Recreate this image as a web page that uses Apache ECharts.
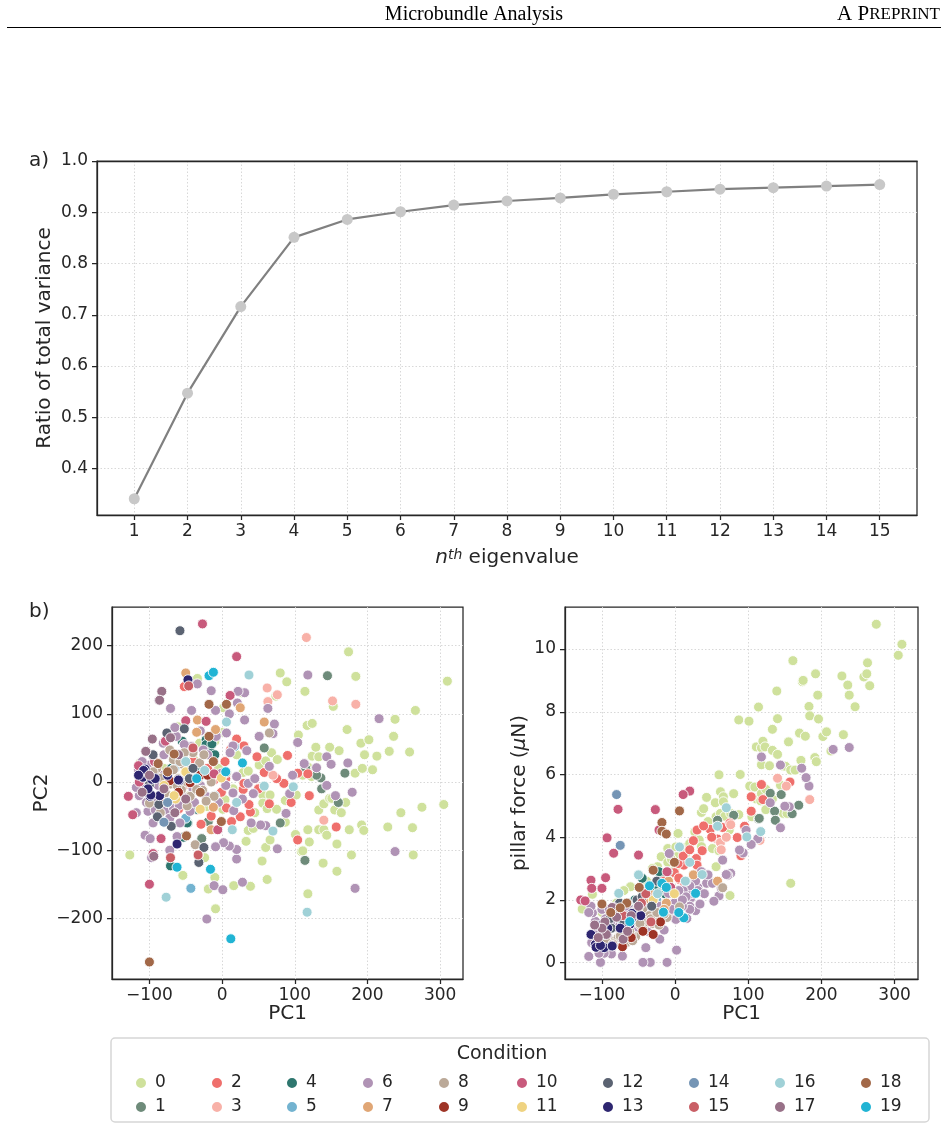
<!DOCTYPE html>
<html>
<head>
<meta charset="utf-8">
<script src="https://cdn.jsdelivr.net/npm/echarts@6/dist/echarts.min.js"></script>
<style>
html,body{margin:0;padding:0;background:#fff;}
#chart{width:948px;height:1127px;}
</style>
</head>
<body>
<div id="chart"></div>
<script>
// ---------- Panel a data ----------
const eigenIndex = [1,2,3,4,5,6,7,8,9,10,11,12,13,14,15];
const varianceRatio = [0.341,0.547,0.716,0.851,0.886,0.901,0.914,0.922,0.928,0.935,0.940,0.945,0.948,0.951,0.954];
const ratioTicks = [0.4,0.5,0.6,0.7,0.8,0.9,1.0];

// ---------- Panel b tick labels ----------
const pc1Ticks = [-100,0,100,200,300];
const pc2Ticks = [-200,-100,0,100,200];
const forceTicks = [0,2,4,6,8,10];

// ---------- Panel b data: each point = [PC1, PC2, pillar force] ----------
const cond0 = [[-127,-107,1.71],[-113,28,2.18],[-61,81,2.42],[-54,-137,2.0],[-34,152,2.53],[-24,-111,3.06],[-19,-157,3.38],[-10,-140,3.64],[-9,-186,2.95],[1,73,3.06],[1,-40,3.69],[2,109,3.38],[4,-26,4.12],[16,-152,3.69],[27,131,4.17],[29,14,3.16],[33,-87,3.91],[36,16,4.79],[36,-71,3.7],[39,-153,4.91],[43,-68,5.27],[51,25,3.64],[55,-116,5.1],[56,-19,4.65],[56,-31,3.06],[60,31,5.99],[60,-96,3.57],[62,-143,4.76],[62,-39,5.45],[66,-19,5.29],[66,-85,5.13],[68,43,4.67],[75,-40,2.14],[74,126,4.23],[76,33,4.76],[80,160,5.39],[87,-27,4.72],[87,-59,7.74],[89,147,6.0],[102,-19,5.63],[101,-77,7.7],[105,69,4.65],[109,-102,5.6],[111,10,6.88],[111,-101,5.22],[114,133,8.15],[117,83,5.16],[118,22,6.31],[118,-70,5.39],[118,-164,6.85],[120,-88,7.06],[123,8,6.88],[124,86,5.53],[124,38,4.88],[129,51,6.28],[133,-70,7.44],[133,-41,5.22],[133,37,6.77],[139,-119,8.66],[140,-32,7.78],[140,-70,6.64],[144,-78,5.66],[148,-24,4.76],[148,51,6.26],[151,-24,6.26],[153,111,4.76],[155,-41,7.04],[158,-131,6.14],[158,-91,2.53],[161,46,9.63],[164,-45,6.14],[170,-30,7.32],[172,77,6.45],[174,191,8.96],[175,-70,9.0],[178,-107,7.22],[183,13,8.17],[184,155,7.87],[191,57,6.54],[192,-63,9.21],[195,-71,8.53],[193,20,6.41],[196,40,7.77],[202,62,7.21],[207,18,7.36],[213,38,6.75],[228,-66,9.14],[230,45,7.27],[236,67,8.85],[238,92,8.53],[246,-45,8.16],[258,44,9.11],[262,-67,9.21],[263,-107,9.56],[266,105,8.83],[275,-37,10.79],[305,-33,9.8],[310,148,10.15],[-39,33,2.6],[-31,57,3.0],[-21,-36,2.4],[-80,20,1.9],[-45,-20,2.3],[-10,60,3.2],[-100,5,1.6],[-70,-20,2.3],[-5,20,3.3],[15,-10,3.5],[20,40,3.8],[45,-45,4.5]];
const cond1 = [[145,156,5.36],[136,6,4.83],[169,13,5.02],[114,-115,4.58],[58,50,4.54],[-28,-83,2.4],[-19,-58,2.7],[137,-10,4.54],[115,20,4.6],[80,-60,4.7],[160,-30,4.75],[130,10,5.4]];
const cond2 = [[90,39,3.41],[85,-2,3.99],[104,13,4.83],[118,12,5.68],[58,14,3.94],[48,37,4.25],[30,53,4.23],[12,48,3.11],[4,30,3.16],[-1,-15,2.87],[6,-38,2.65],[13,-58,2.55],[25,-51,3.89],[29,-11,3.32],[30,-2,3.11],[39,-44,4.36],[37,-33,3.57],[65,-32,4.31],[104,-85,5.29],[157,-66,5.76],[11,127,3.4],[20,63,3.6],[-34,-41,2.21],[-29,-62,1.84],[-33,-107,2.44],[-51,-4,1.09],[-44,-2,1.3],[-27,-11,2.0],[-11,3,2.5],[-52,140,1.09],[-40,30,1.8],[-20,20,2.3],[5,5,2.7],[-60,-40,1.4],[-15,-50,2.6],[50,-10,4.0],[75,5,4.45],[95,-30,4.35],[120,-20,5.2]];
const cond3 = [[116,212,3.9],[62,138,3.83],[76,128,4.4],[63,118,3.6],[152,119,5.63],[184,114,5.2],[140,-56,5.88],[70,10,4.0]];
const cond4 = [[-45,47,2.69],[-22,62,2.31],[-17,47,2.5],[-47,-60,1.47],[-71,-123,1.6],[-48,-60,1.9],[-22,55,2.9],[-14,56,2.2],[-53,-81,1.8],[-30,20,2.4],[-60,40,1.5],[-70,20,1.4],[-55,60,2.0],[-35,-40,2.3],[-10,40,2.9]];
const cond5 = [[-43,-156,1.6],[-80,-59,1.2],[-50,-53,1.8],[17,52,2.1],[-25,15,2.0],[-65,20,1.9],[-10,-20,2.4]];
const cond6 = [[118,157,6.56],[216,93,6.8],[238,-102,6.86],[183,-156,5.63],[179,-15,5.9],[173,28,6.2],[156,-20,4.97],[144,37,6.3],[150,26,4.99],[113,27,3.95],[130,21,5.1],[104,58,3.77],[97,10,4.22],[93,-17,3.5],[88,-46,3.59],[144,-5,4.3],[76,-98,2.85],[60,-64,2.13],[28,-25,1.66],[43,-17,2.53],[34,46,1.87],[31,131,2.4],[21,116,2.05],[22,133,2.2],[28,-147,2.6],[20,-113,1.8],[53,-63,1.96],[65,23,3.27],[72,85,2.79],[63,108,2.38],[70,71,2.81],[51,67,2.53],[31,91,2.3],[36,-2,2.9],[20,8,2.45],[20,-99,1.7],[16,-42,1.41],[10,-94,1.8],[2,-89,0.4],[-9,-95,1.57],[-11,-152,0.01],[1,-158,1.38],[-21,-201,0.75],[15,53,2.6],[6,72,2.2],[11,43,2.3],[-1,13,1.9],[15,-16,2.1],[-8,67,3.48],[-9,105,2.21],[-15,134,1.04],[-22,-21,1.5],[-34,144,0.01],[-42,105,1.62],[-71,108,0.93],[-87,120,0.28],[-106,-78,0.91],[-99,-83,0.28],[-97,-111,0.3],[-72,-100,0.21],[-109,-6,1.32],[-102,-43,0.01],[-92,-41,0.83],[-77,-41,1.1],[-67,-38,1.2],[-59,-34,1.57],[-72,-53,1.0],[-58,-60,1.3],[-44,-43,0.01],[-113,8,1.59],[-95,38,1.4],[-81,57,1.6],[-63,67,1.7],[-42,52,1.79],[-26,47,1.36],[-115,18,1.8],[-114,-20,0.64],[-40,-10,0.48],[-50,10,1.5],[-30,-5,1.9],[-85,10,1.2],[-100,25,1.7],[-118,-8,1.6],[-110,30,1.0],[-104,-30,0.3],[-95,-60,0.9],[-88,-5,1.3],[-80,40,1.8],[-76,0,0.6],[-65,80,1.5],[-55,-20,1.1],[-52,55,1.4],[-38,-30,1.0],[-30,75,2.0],[-20,40,1.8],[-5,-30,1.7],[5,-5,2.3],[10,100,2.0],[40,-60,2.2],[45,5,2.8],[-62,-80,1.2],[-118,-45,0.2],[-90,-25,1.7]];
const cond7 = [[-50,160,1.5],[-34,91,2.0],[-35,73,2.2],[-9,77,2.6],[-12,-37,1.9],[-15,-70,1.7],[25,109,2.8],[58,88,2.6]];
const cond8 = [[-71,-3,0.67],[-83,6,0.69],[-67,18,0.64],[-54,26,0.83],[-44,20,1.15],[-31,28,1.25],[-40,43,1.41],[-52,43,1.31],[-67,33,1.0],[-72,47,0.75],[-56,-11,1.6],[-44,-21,1.7],[-27,-12,1.36],[-11,-21,1.44],[-22,-28,1.2],[-35,-11,1.5],[-78,-16,0.8],[-100,-31,0.74],[-37,-92,1.3],[65,72,2.39],[6,14,1.78],[-60,5,0.9],[-48,0,1.2],[-90,20,0.6],[-95,15,0.7],[-75,-30,0.85],[-62,-5,1.0],[-58,30,0.7],[-48,-35,1.25],[-33,5,1.4],[-25,40,1.6],[-15,0,1.55],[-85,-45,0.6]];
const cond9 = [[-44,-1,1.0],[-72,2,0.51],[-30,10,0.9],[-60,-15,0.8],[-85,-30,0.55],[-20,10,1.3]];
const cond10 = [[-27,232,4.88],[20,184,5.47],[11,127,5.36],[-50,90,3.43],[-22,89,4.23],[-115,24,2.63],[-129,-21,2.0],[-123,-48,1.97],[-84,-83,3.49],[-95,-105,2.71],[-100,-150,2.37],[-6,-70,2.4],[-11,12,2.9],[-78,60,4.89],[-93,30,3.98],[-114,0,2.37]];
const cond11 = [[-64,-25,1.3],[-1,6,2.2],[-51,14,1.7],[-50,15,1.9],[-66,-20,1.4],[-80,-5,1.65],[-30,-40,2.0]];
const cond12 = [[-58,222,1.6],[-89,-51,1.4],[-87,-33,1.1],[-76,72,1.9],[-52,78,2.0],[-25,-96,2.6],[-32,-118,1.8],[-100,-4,0.9],[-40,20,2.2],[-95,40,1.0],[-70,-65,1.3],[-45,5,2.1]];
const cond13 = [[-106,19,1.19],[-109,7,0.58],[-97,4,0.48],[-99,-21,1.23],[-86,-20,0.53],[-59,2,1.57],[-47,150,1.5],[-62,-91,1.22],[-108,17,0.49],[-60,3,1.4],[-98,-19,0.9],[-75,10,1.1],[-115,10,0.9],[-102,-10,0.55],[-92,5,1.1]];
const cond14 = [[-80,-59,5.36],[-75,-30,3.74]];
const cond15 = [[-46,141,1.9],[-71,-111,1.5],[-33,-107,1.3],[-40,50,2.2]];
const cond16 = [[37,157,2.81],[6,88,3.69],[-24,17,2.2],[58,-6,4.35],[98,-7,4.01],[70,-72,4.94],[14,-70,2.6],[117,-191,4.18],[-77,-169,2.21],[-50,30,2.8],[20,-30,3.2]];
const cond17 = [[-83,133,1.75],[-86,120,1.76],[-96,63,1.3],[-71,65,0.75],[-94,-109,0.9],[-60,40,1.5],[-100,10,1.1],[-110,-15,1.2],[-105,45,0.8],[-80,-10,1.45],[-65,-45,1.0],[-50,-25,1.8]];
const cond18 = [[-100,-264,1.87],[6,114,4.84],[-18,114,4.47],[-18,67,4.19],[-1,-58,3.2],[-49,-79,2.4],[-88,27,1.6],[-66,41,1.9],[-12,30,4.1],[-75,15,1.75],[-30,-15,2.95]];
const cond19 = [[12,-230,1.43],[-18,156,2.53],[-12,161,2.4],[-62,-125,1.31],[-16,-128,1.61],[28,28,2.21],[-35,5,2.45],[5,15,1.6]];

const conditionNames = ['0','1','2','3','4','5','6','7','8','9','10','11','12','13','14','15','16','17','18','19'];
const conditionColors = ['#cfe19c','#6e8b7a','#ef6f6c','#f8b1a8','#2e766e','#73b3d0','#b093b5','#e0a675','#bba998','#9e3426','#c85a7c','#efd381','#5b6372','#2e2670','#7595b5','#c95f66','#a0d1d7','#987188','#a26848','#21b4d4'];
const conditionData = [cond0,cond1,cond2,cond3,cond4,cond5,cond6,cond7,cond8,cond9,cond10,cond11,cond12,cond13,cond14,cond15,cond16,cond17,cond18,cond19];

// ---------- chart ----------
const TXT = '#262626';
const FONT = 'DejaVu Sans';
const minusFmt = v => (v < 0 ? '\u2212' + Math.abs(v) : String(v));

function mkAxis(o) {
  return {
    type: 'value', gridIndex: o.grid, min: o.min, max: o.max,
    axisLine: {show: true, onZero: false, lineStyle: {color: TXT, width: 1.25}},
    axisTick: {show: true, length: 5, customValues: o.ticks, lineStyle: {color: TXT, width: 1.25}},
    axisLabel: {customValues: o.ticks, formatter: o.fmt, fontSize: 17, color: TXT, fontFamily: FONT, margin: o.margin || 8},
    splitLine: {show: true, lineStyle: {color: '#d4d4d4', type: [1.5, 2], width: 0.9}},
    name: o.name, nameLocation: 'middle', nameGap: o.gap, nameMoveOverlap: false,
    nameTextStyle: Object.assign({fontSize: 20, color: TXT, fontFamily: FONT}, o.nameStyle || {})
  };
}

const chart = echarts.init(document.getElementById('chart'), null, {renderer: 'canvas'});

const series = [{
  type: 'line', xAxisIndex: 0, yAxisIndex: 0,
  data: eigenIndex.map((e, i) => [e, varianceRatio[i]]),
  lineStyle: {color: '#808080', width: 2.2},
  symbol: 'circle', symbolSize: 11,
  itemStyle: {color: '#c8c8c8'},
  z: 3
}];
conditionData.forEach((pts, k) => {
  const common = {
    type: 'scatter', name: conditionNames[k], symbol: 'circle', symbolSize: 10,
    itemStyle: {color: conditionColors[k], borderColor: '#ffffff', borderWidth: 0.9, opacity: 1}
  };
  series.push(Object.assign({}, common, {xAxisIndex: 1, yAxisIndex: 1, data: pts.map(p => [p[0], p[1]])}));
  series.push(Object.assign({}, common, {xAxisIndex: 2, yAxisIndex: 2, data: pts.map(p => [p[0], p[2]])}));
});

const legendCols = [135, 211, 286, 362, 438, 516, 602, 688, 774, 860];
const legends = legendCols.map((cx, i) => ({
  orient: 'vertical', left: cx - 6, top: 1068, itemWidth: 12, itemHeight: 12, itemGap: 4,
  icon: 'circle', selectedMode: false,
  data: [conditionNames[2 * i], conditionNames[2 * i + 1]],
  textStyle: {fontSize: 17, color: TXT, fontFamily: FONT, lineHeight: 20, padding: [0, 0, 0, 3]}
}));

const topAxisA = {
  type: 'value', gridIndex: 0, position: 'top', min: 0.3, max: 15.7,
  axisLine: {show: true, lineStyle: {color: TXT, width: 1.25}},
  axisTick: {show: false}, axisLabel: {show: false}, splitLine: {show: false}
};

const option = {
  animation: false,
  backgroundColor: '#ffffff',
  grid: [
    {left: 97, top: 161, width: 820, height: 354, show: true, borderColor: TXT, borderWidth: 1.25},
    {left: 112, top: 607, width: 351, height: 372, show: true, borderColor: TXT, borderWidth: 1.25},
    {left: 565, top: 607, width: 353, height: 372, show: true, borderColor: TXT, borderWidth: 1.25}
  ],
  xAxis: [
    mkAxis({grid: 0, min: 0.3, max: 15.7, ticks: eigenIndex, fmt: v => String(v), gap: 33,
      name: '{i|n}{sup|th} eigenvalue',
      nameStyle: {rich: {i: {fontStyle: 'italic', fontSize: 20, fontFamily: FONT, color: TXT}, sup: {fontStyle: 'italic', fontSize: 14, fontFamily: FONT, color: TXT, verticalAlign: 'top', lineHeight: 14}}}}),
    mkAxis({grid: 1, min: -151.5, max: 331.5, ticks: pc1Ticks, fmt: minusFmt, name: 'PC1', gap: 25}),
    mkAxis({grid: 2, min: -150.5, max: 332, ticks: pc1Ticks, fmt: minusFmt, name: 'PC1', gap: 25}),
    topAxisA
  ],
  yAxis: [
    mkAxis({grid: 0, min: 0.3093, max: 1.0, ticks: ratioTicks, fmt: v => v.toFixed(1), name: 'Ratio of total variance', gap: 42, margin: 9}),
    mkAxis({grid: 1, min: -289, max: 256.8, ticks: pc2Ticks, fmt: minusFmt, name: 'PC2', gap: 60, margin: 9}),
    mkAxis({grid: 2, min: -0.52, max: 11.34, ticks: forceTicks, fmt: v => String(v), gap: 35, margin: 9,
      name: 'pillar force ({i|\u03bc}N)',
      nameStyle: {rich: {i: {fontStyle: 'italic', fontSize: 20, fontFamily: FONT, color: TXT}}}})
  ],
  legend: legends,
  graphic: [
    {type: 'text', left: 'center', top: 5, style: {text: 'Microbundle Analysis', font: '20px "Liberation Serif"', fill: '#000'}},
    {type: 'text', right: 8, top: 4, style: {text: '{a|A P}{b|REPRINT}', rich: {a: {font: '21px "Liberation Serif"', fill: '#000'}, b: {font: '17px "Liberation Serif"', fill: '#000'}}}},
    {type: 'line', shape: {x1: 7, y1: 27.5, x2: 941, y2: 27.5}, style: {stroke: '#000', lineWidth: 1}},
    {type: 'text', left: 29, top: 151, style: {text: 'a)', font: '20px "DejaVu Sans"', fill: TXT}},
    {type: 'text', left: 29, top: 602, style: {text: 'b)', font: '20px "DejaVu Sans"', fill: TXT}},
    {type: 'rect', shape: {x: 111, y: 1038, width: 818, height: 84, r: 4}, style: {fill: 'none', stroke: '#d6d6d6', lineWidth: 1.5}},
    {type: 'text', x: 502, y: 1054, style: {text: 'Condition', font: '19px "DejaVu Sans"', fill: TXT, textAlign: 'center', textVerticalAlign: 'middle'}}
  ],
  series: series
};
chart.setOption(option);
</script>
</body>
</html>
